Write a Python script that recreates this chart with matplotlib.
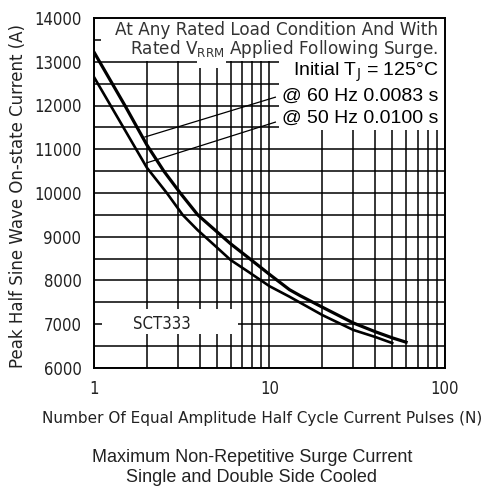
import matplotlib
matplotlib.use('Agg')
import matplotlib.pyplot as plt
from matplotlib.patches import Rectangle
from matplotlib.ticker import FixedLocator, NullFormatter, MultipleLocator

# surge current vs number of half-cycle pulses
n_60hz = [1, 1.5, 2, 2.5, 3.1, 3.9, 4.9, 6, 7.7, 10, 13, 15, 20, 30, 40, 50, 60]
i_60hz = [13220, 12000, 11100, 10500, 10000, 9500, 9150, 8840, 8500, 8140, 7790, 7650, 7390, 7030, 6830, 6690, 6590]
n_50hz = [1, 1.5, 2, 2.6, 3.2, 3.9, 5, 6, 7.7, 10, 13, 20, 30, 40, 50]
i_50hz = [12650, 11440, 10580, 10000, 9500, 9150, 8760, 8470, 8180, 7870, 7630, 7210, 6870, 6710, 6570]

# leader lines from the curves to the legend text
lead_60_n = [1.95, 10.8]
lead_60_i = [11280, 12190]
lead_50_n = [2.0, 10.8]
lead_50_i = [10690, 11620]

x_ticks = [1, 10, 100]
y_ticks = [6000, 7000, 8000, 9000, 10000, 11000, 12000, 13000, 14000]

plt.rcParams['mathtext.fontset'] = 'custom'
plt.rcParams['mathtext.rm'] = 'DejaVu Sans'
narrow = dict(family='DejaVu Sans', stretch='condensed', color='#222222')

fig = plt.figure(figsize=(4.85, 4.91), dpi=100)
ax = fig.add_axes([94/485, 123/491, 351/485, 350/491])

ax.plot(n_60hz, i_60hz, color='black', lw=2.3, zorder=2, solid_joinstyle='round')
ax.plot(n_50hz, i_50hz, color='black', lw=1.9, zorder=2, solid_joinstyle='round')
ax.plot(lead_60_n, lead_60_i, color='black', lw=0.9, zorder=2)
ax.plot(lead_50_n, lead_50_i, color='black', lw=0.9, zorder=2)

ax.set_xscale('log')
ax.set_xlim(1, 100)
ax.set_ylim(6000, 14000)
ax.xaxis.set_major_locator(FixedLocator(x_ticks))
ax.xaxis.set_minor_locator(FixedLocator([k*m for m in (1, 10) for k in range(2, 10)]))
ax.xaxis.set_minor_formatter(NullFormatter())
ax.set_xticklabels([str(v) for v in x_ticks])
ax.yaxis.set_major_locator(FixedLocator(y_ticks))
ax.yaxis.set_minor_locator(MultipleLocator(500))
ax.set_yticklabels([str(v) for v in y_ticks])
ax.tick_params(which='both', length=0)
ax.tick_params(axis='y', pad=9)
ax.tick_params(axis='x', pad=9)
for lab in ax.get_xticklabels() + ax.get_yticklabels():
    lab.set_family('DejaVu Sans')
    lab.set_stretch('condensed')
    lab.set_fontsize(12)
    lab.set_color('#222222')

ax.set_axisbelow(True)
ax.grid(which='both', color='black', lw=1.1)
for s in ax.spines.values():
    s.set_linewidth(1.4)
    s.set_zorder(3)

# white panels behind the text blocks
for (x0, y0, w, h) in [(0.02, 0.877, 0.98, 0.123),
                       (0.293, 0.857, 0.083, 0.03),
                       (0.527, 0.68, 0.473, 0.2),
                       (0.023, 0.097, 0.387, 0.072)]:
    ax.add_patch(Rectangle((x0, y0), w, h, transform=ax.transAxes,
                           facecolor='white', edgecolor='none', zorder=1))

ax.text(0.979, 0.936,
        'At Any Rated Load Condition And With\n' + r'Rated V$_{\rm RRM}$ Applied Following Surge.',
        transform=ax.transAxes, ha='right', va='center', multialignment='right',
        linespacing=0.95, fontsize=12.2, family='DejaVu Sans', color='#333333', zorder=4)
for yy, s in [(0.846, 'Initial T$_{\\rm J}$ = 125°C'),
              (0.777, '@ 60 Hz 0.0083 s'),
              (0.714, '@ 50 Hz 0.0100 s')]:
    ax.text(0.98, yy, s, transform=ax.transAxes, ha='right', va='center',
            fontsize=14, family='Liberation Sans', color='black', zorder=4)
ax.text(0.194, 0.126, 'SCT333', transform=ax.transAxes, ha='center', va='center',
        fontsize=12, zorder=4, **narrow)

fig.text(262/485, 1 - 418/491, 'Number Of Equal Amplitude Half Cycle Current Pulses (N)',
         ha='center', va='center', fontsize=11, family='DejaVu Sans', color='#222222')
fig.text(18/485, 1 - 196/491, 'Peak Half Sine Wave On-state Current (A)', rotation=90,
         ha='center', va='center', fontsize=12, family='DejaVu Sans', color='#222222')
fig.text(252/485, 1 - 458/491, 'Maximum Non-Repetitive Surge Current', ha='center', va='center',
         fontsize=13, family='Liberation Sans', color='#222222')
fig.text(252/485, 1 - 478/491, 'Single and Double Side Cooled', ha='center', va='center',
         fontsize=13, family='Liberation Sans', color='#222222')

fig.savefig('out.png', dpi=100)
